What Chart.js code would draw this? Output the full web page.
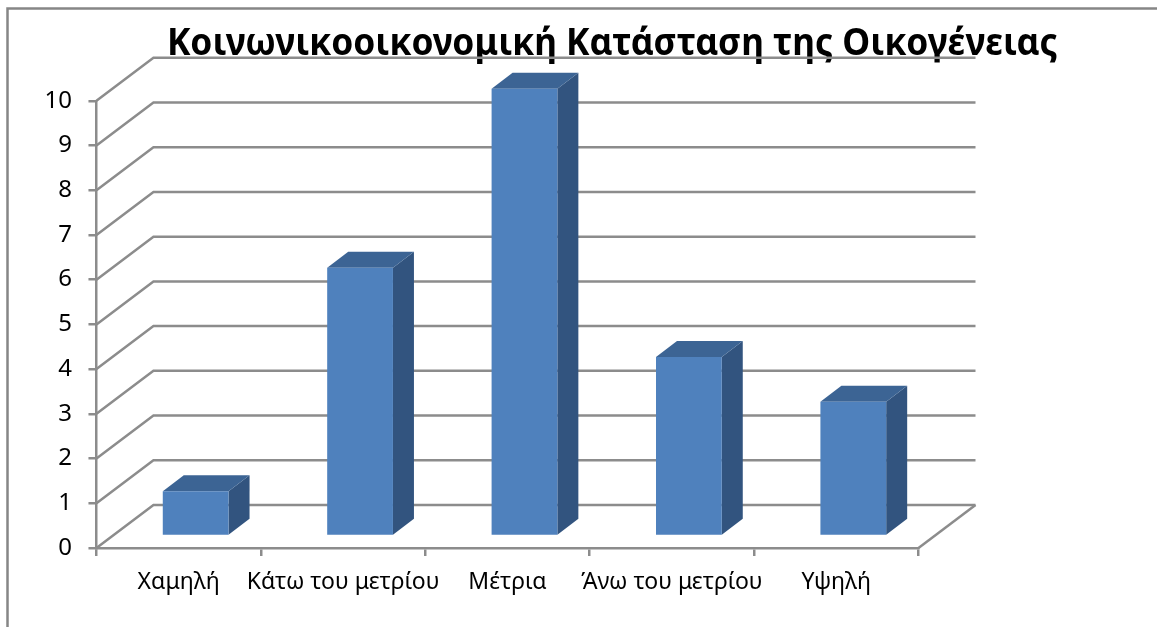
<!DOCTYPE html>
<html lang="el">
<head>
<meta charset="utf-8">
<title>Κοινωνικοοικονομική Κατάσταση της Οικογένειας</title>
<script src="https://cdn.jsdelivr.net/npm/chart.js@4/dist/chart.umd.min.js"></script>
<style>
html,body{margin:0;padding:0;background:#fff;overflow:hidden}
canvas{display:block;filter:blur(0.4px)}
</style>
</head>
<body>
<canvas id="c" width="1157" height="627"></canvas>
<script>
const chartTitle = 'Κοινωνικοοικονομική Κατάσταση της Οικογένειας';
const categories = ['Χαμηλή', 'Κάτω του μετρίου', 'Μέτρια', 'Άνω του μετρίου', 'Υψηλή'];
const seriesValues = [1, 6, 10, 4, 3];
const valueTicks = [0, 1, 2, 3, 4, 5, 6, 7, 8, 9, 10];

const FONT = '"Noto Sans", sans-serif';
const AXIS = '#8c8c8c';
const WALL = { dx: 57, dy: 43 };
const BAR_SHIFT = { dx: 17, dy: 12 };
const BAR_DEPTH = { dx: 21, dy: 16 };

const scene3d = {
  id: 'scene3d',
  afterLayout(chart) {
    chart.titleBlock.left += 139;
    chart.titleBlock.right += 139;
  },
  beforeDraw(chart) {
    const { ctx, width, height } = chart;
    ctx.save();
    ctx.strokeStyle = '#868686';
    ctx.lineWidth = 2.5;
    ctx.beginPath();
    ctx.moveTo(7.5, height);
    ctx.lineTo(7.5, 8.5);
    ctx.lineTo(width, 8.5);
    ctx.stroke();
    ctx.restore();
  },
  beforeDatasetsDraw(chart) {
    const { ctx, chartArea: a, scales: { y } } = chart;
    ctx.save();
    ctx.strokeStyle = AXIS;
    ctx.lineWidth = 2.5;
    valueTicks.forEach(v => {
      const py = y.getPixelForValue(v);
      ctx.beginPath();
      ctx.moveTo(a.left, py);
      ctx.lineTo(a.left + WALL.dx, py - WALL.dy);
      ctx.lineTo(a.right + WALL.dx, py - WALL.dy);
      ctx.stroke();
    });
    const p0 = y.getPixelForValue(0);
    ctx.beginPath();
    ctx.moveTo(a.right, p0);
    ctx.lineTo(a.right + WALL.dx, p0 - WALL.dy);
    ctx.stroke();

    // bar sides, then leave the context shifted so the library's bars land on the floor
    ctx.translate(BAR_SHIFT.dx, -BAR_SHIFT.dy);
    chart.getDatasetMeta(0).data.forEach(bar => {
      const p = bar.getProps(['x', 'y', 'base', 'width'], true);
      const l = p.x - p.width / 2, r = p.x + p.width / 2;
      ctx.fillStyle = '#32547F';
      ctx.beginPath();
      ctx.moveTo(r, p.y);
      ctx.lineTo(r + BAR_DEPTH.dx, p.y - BAR_DEPTH.dy);
      ctx.lineTo(r + BAR_DEPTH.dx, p.base - BAR_DEPTH.dy);
      ctx.lineTo(r, p.base);
      ctx.closePath();
      ctx.fill();
      ctx.fillStyle = '#3C6494';
      ctx.beginPath();
      ctx.moveTo(l, p.y);
      ctx.lineTo(l + BAR_DEPTH.dx, p.y - BAR_DEPTH.dy);
      ctx.lineTo(r + BAR_DEPTH.dx, p.y - BAR_DEPTH.dy);
      ctx.lineTo(r, p.y);
      ctx.closePath();
      ctx.fill();
    });
  },
  afterDatasetsDraw(chart) {
    chart.ctx.restore();
  }
};

new Chart(document.getElementById('c'), {
  type: 'bar',
  data: {
    labels: categories,
    datasets: [{
      data: seriesValues,
      backgroundColor: '#4F81BD',
      barPercentage: 0.4,
      categoryPercentage: 1,
      clip: false
    }]
  },
  plugins: [scene3d],
  options: {
    responsive: false,
    animation: false,
    layout: { padding: { left: 28, right: 238.5, top: 14, bottom: 17.4 } },
    plugins: {
      legend: { display: false },
      tooltip: { enabled: false },
      title: {
        display: true,
        text: chartTitle,
        color: '#000',
        font: { family: FONT, size: 37.3, weight: 'bold' },
        padding: { top: 8, bottom: 34 }
      }
    },
    scales: {
      x: {
        grid: { drawOnChartArea: false, drawTicks: true, tickLength: 8, color: AXIS, lineWidth: 2.5 },
        border: { color: AXIS, width: 2.5 },
        ticks: { color: '#000', font: { family: FONT, size: 23 }, padding: 13, maxRotation: 0, autoSkip: false }
      },
      y: {
        min: 0,
        max: 10,
        afterBuildTicks(axis) { axis.ticks = valueTicks.map(value => ({ value })); },
        grid: { drawOnChartArea: false, drawTicks: true, tickLength: 8, color: AXIS, lineWidth: 2.5 },
        border: { color: AXIS, width: 2.5 },
        ticks: { color: '#000', font: { family: FONT, size: 24 }, padding: 16.5 }
      }
    }
  }
});
</script>
</body>
</html>
